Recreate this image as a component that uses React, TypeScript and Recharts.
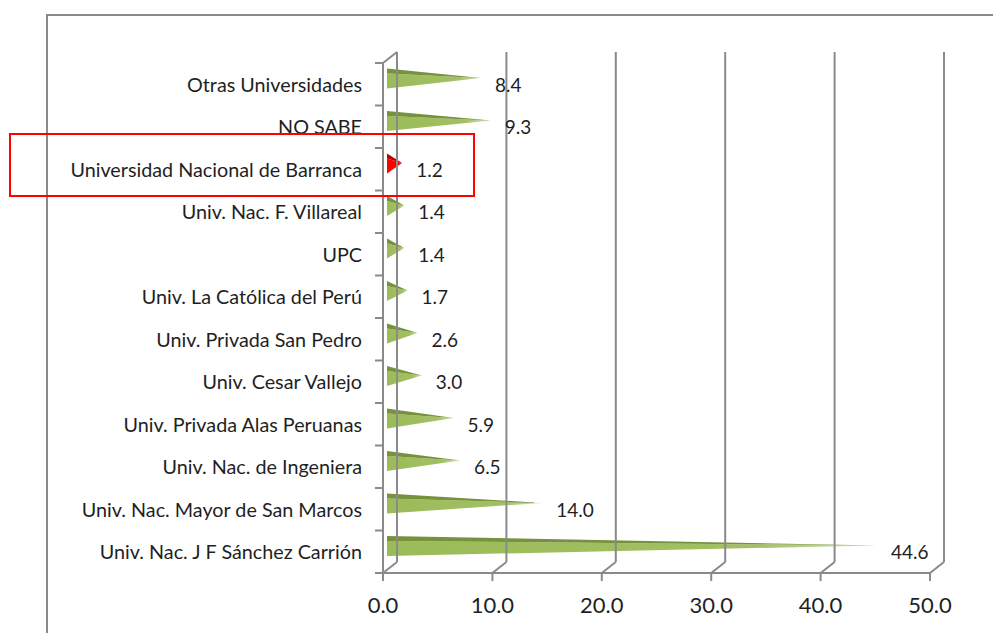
import { BarChart, Bar, XAxis, YAxis, LabelList } from "recharts"

const universities = [
  "Otras Universidades",
  "NO SABE",
  "Universidad Nacional de Barranca",
  "Univ. Nac. F. Villareal",
  "UPC",
  "Univ. La Católica del Perú",
  "Univ. Privada San Pedro",
  "Univ. Cesar Vallejo",
  "Univ. Privada Alas Peruanas",
  "Univ. Nac. de Ingeniera",
  "Univ. Nac. Mayor de San Marcos",
  "Univ. Nac. J F Sánchez Carrión",
]
const percentages = [8.4, 9.3, 1.2, 1.4, 1.4, 1.7, 2.6, 3.0, 5.9, 6.5, 14.0, 44.6]
const highlighted = "Universidad Nacional de Barranca"
const xTicks = [0, 10, 20, 30, 40, 50]

const data = universities.map((name, i) => ({ name, value: percentages[i] }))

// chart geometry (the fake 3D frame of the original Excel chart)
const W = 993
const H = 633
const PLOT_LEFT = 383
const PLOT_RIGHT = 930
const PLOT_TOP = 63
const PLOT_BOTTOM = 573
const DX = 14
const DY = 11
const BAND = (PLOT_BOTTOM - PLOT_TOP) / universities.length
const FRAME = "#8a8a8a"
const FONT = "Lato, 'Open Sans', sans-serif"

function XTick(props: any) {
  const { x, payload } = props
  return (
    <g>
      <line x1={x} y1={PLOT_BOTTOM} x2={x} y2={PLOT_BOTTOM + 8} stroke={FRAME} strokeWidth={2} />
      <line x1={x} y1={PLOT_BOTTOM} x2={x + DX} y2={PLOT_BOTTOM - DY} stroke={FRAME} strokeWidth={2} />
      <line x1={x + DX} y1={PLOT_BOTTOM - DY} x2={x + DX} y2={PLOT_TOP - DY} stroke={FRAME} strokeWidth={2} />
      <text x={x} y={613} textAnchor="middle" fontSize={22} fontFamily={FONT} fill="#1f1f1f">
        {Number(payload.value).toFixed(1)}
      </text>
    </g>
  )
}

function YTick(props: any) {
  const { y, payload, index } = props
  return (
    <g>
      {index === 0 && (
        <>
          <line x1={PLOT_LEFT - 8} y1={y - BAND / 2} x2={PLOT_LEFT} y2={y - BAND / 2} stroke={FRAME} strokeWidth={2} />
          <line x1={PLOT_LEFT} y1={PLOT_TOP} x2={PLOT_LEFT + DX} y2={PLOT_TOP - DY} stroke={FRAME} strokeWidth={2} />
        </>
      )}
      <line x1={PLOT_LEFT - 8} y1={y + BAND / 2} x2={PLOT_LEFT} y2={y + BAND / 2} stroke={FRAME} strokeWidth={2} />
      <text x={PLOT_LEFT - 21} y={y} textAnchor="end" dominantBaseline="central" fontSize={19.75} fontFamily={FONT} fill="#1f1f1f">
        {payload.value}
      </text>
    </g>
  )
}

function Pyramid(props: any) {
  const { x, y, width, height, payload, index } = props
  const hot = payload.name === highlighted
  const x0 = x + 4
  const top = y - 5.5
  const bottom = top + height
  const mid = top + height * 0.47
  const tip = x0 + width + 2
  const id = `pyr-${index}`
  return (
    <g>
      <defs>
        <linearGradient id={id} x1="0" y1="0" x2="1" y2="0">
          <stop offset="0" stopColor={hot ? "#ff0000" : "#9bbb59"} />
          <stop offset="0.75" stopColor={hot ? "#ff0000" : "#a2c062"} />
          <stop offset="1" stopColor={hot ? "#ff3030" : "#d4e3b3"} />
        </linearGradient>
      </defs>
      <polygon points={`${x0},${top + 5} ${x0},${bottom} ${tip},${mid}`} fill={`url(#${id})`} />
      <polygon points={`${x0},${top} ${x0},${top + 5} ${tip},${mid}`} fill={hot ? "#c00000" : "#76923c"} />
    </g>
  )
}

function ValueLabel(props: any) {
  const { x, y, width, height, value } = props
  return (
    <text x={x + width + 20} y={y + height / 2} dominantBaseline="central" fontSize={19} fontFamily={FONT} fill="#1f1f1f">
      {Number(value).toFixed(1)}
    </text>
  )
}

export default function App() {
  return (
    <div style={{ position: "absolute", left: 0, top: 0, width: W, height: H, background: "#fff", overflow: "hidden" }}>
      <div
        style={{
          position: "absolute",
          left: 46,
          top: 14,
          width: W,
          height: H,
          borderLeft: `2px solid ${FRAME}`,
          borderTop: `2px solid ${FRAME}`,
        }}
      />
      <div style={{ position: "absolute", left: 0, top: 0 }}>
        <BarChart
          width={W}
          height={H}
          data={data}
          layout="vertical"
          margin={{ top: PLOT_TOP, right: W - PLOT_RIGHT, bottom: 0, left: 0 }}
          barSize={20}
        >
          <XAxis
            type="number"
            domain={[0, 50]}
            ticks={xTicks}
            height={H - PLOT_BOTTOM}
            axisLine={{ stroke: FRAME, strokeWidth: 2 }}
            tickLine={false}
            tick={<XTick />}
            interval={0}
          />
          <YAxis
            type="category"
            dataKey="name"
            width={PLOT_LEFT}
            axisLine={{ stroke: FRAME, strokeWidth: 2 }}
            tickLine={false}
            tick={<YTick />}
            interval={0}
          />
          <Bar dataKey="value" shape={<Pyramid />} isAnimationActive={false}>
            <LabelList dataKey="value" content={<ValueLabel />} />
          </Bar>
        </BarChart>
      </div>
      <div
        style={{
          position: "absolute",
          left: 9,
          top: 133,
          width: 466,
          height: 64,
          border: "2px solid #ff0000",
          boxSizing: "border-box",
          pointerEvents: "none",
        }}
      />
    </div>
  )
}
